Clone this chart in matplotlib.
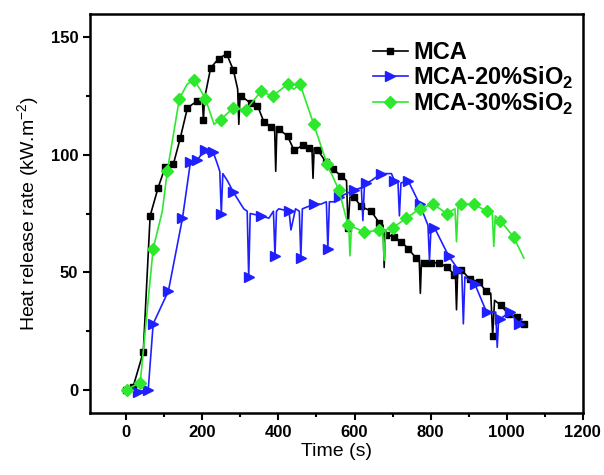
import numpy as np
import matplotlib
matplotlib.use("Agg")
import matplotlib.pyplot as plt
from matplotlib.ticker import MultipleLocator

plt.rcParams["font.family"] = ["Liberation Sans", "DejaVu Sans"]
plt.rcParams["mathtext.fontset"] = "custom"
plt.rcParams["mathtext.rm"] = "Liberation Sans"
plt.rcParams["mathtext.bf"] = "Liberation Sans:bold"

# MCA: points with markers, and extra line vertices (spikes) without markers
mcaT = [0, 18, 45, 63, 84, 103, 124, 142, 161, 187, 203, 222, 243, 264, 282, 303, 327, 345, 362, 380,
        401, 424, 441, 464, 481, 503, 525, 543, 565, 583, 599, 617, 644, 665, 683, 704, 723, 741, 762,
        784, 802, 823, 844, 862, 881, 903, 926, 945, 963, 984, 1005, 1026, 1045]
mcaY = [0, 1, 16, 74, 86, 95, 96, 107, 120, 123, 115, 137, 141, 143, 136, 125, 122, 121, 114, 112,
        111, 108, 102, 104, 103, 102, 97, 94, 91, 69, 82, 78, 76, 71, 66, 65, 63, 60, 56,
        54, 54, 54, 52, 49, 51, 47, 46, 42, 23, 36, 32, 31, 28]
mcaDipT = [200, 206, 293, 296, 299, 390, 393, 396, 488, 491, 494, 579, 588, 675, 678, 681,
           770, 773, 776, 865, 868, 871, 958, 968]
mcaDipY = [124, 124, 128, 113, 124, 112, 93, 111, 103, 90, 103, 89, 82, 70, 52, 68,
           56, 41, 55, 50, 34, 50, 41, 38]

# MCA-20%SiO2
s20T = [30, 58, 71, 111, 148, 169, 187, 208, 229, 250, 282, 322, 354, 391, 428, 459, 494, 530, 559,
        599, 631, 670, 705, 741, 771, 810, 847, 873, 916, 947, 982, 1008, 1031]
s20Y = [-1, 0, 28, 42, 73, 97, 98, 102, 101, 75, 84, 48, 74, 57, 76, 56, 79, 60, 82,
        85, 88, 92, 89, 89, 79, 69, 57, 51, 45, 33, 30, 33, 28]
s20DipT = [216, 240, 246, 254, 266, 309, 318, 326, 375, 387, 395, 401, 433, 445, 455, 463,
           512, 526, 534, 546, 618, 622, 626, 644, 697, 714, 718, 722, 793, 797, 801,
           882, 886, 890, 971, 975, 979, 1040]
s20DipY = [100, 96, 93, 92, 89, 77, 76, 75, 73, 76, 76, 77, 68, 77, 76, 77,
           79, 80, 80, 80, 86, 72, 87, 89, 92, 89, 74, 88, 70, 55, 69,
           49, 28, 48, 33, 18, 31, 30]

# MCA-30%SiO2
s30T = [2, 37, 71, 108, 140, 177, 208, 248, 282, 314, 354, 385, 424, 457, 493, 528, 559, 583, 626,
        665, 701, 736, 771, 807, 842, 881, 913, 947, 983, 1018]
s30Y = [0, 3, 60, 93, 124, 132, 124, 115, 120, 119, 127, 125, 130, 130, 113, 96, 85, 70, 67,
        68, 69, 73, 77, 79, 75, 79, 79, 76, 72, 65]
s30DipT = [95, 160, 194, 231, 400, 440, 585, 588, 592, 600, 674, 678, 682,
           864, 868, 872, 962, 966, 970, 1045]
s30DipY = [76, 130, 128, 113, 127, 128, 70, 57, 69, 69, 68, 55, 68,
           77, 63, 78, 75, 61, 74, 56]

labels = ["MCA", r"MCA-20%SiO$_{\mathbf{2}}$", r"MCA-30%SiO$_{\mathbf{2}}$"]


def merge(t, y, dt, dy):
    allT = np.array(list(t) + list(dt))
    allY = np.array(list(y) + list(dy))
    order = np.argsort(allT, kind="stable")
    isMark = np.array([True] * len(t) + [False] * len(dt))[order]
    return allT[order], allY[order], list(np.where(isMark)[0])


fig = plt.figure(figsize=(6.04, 4.75), dpi=100)
ax = fig.add_axes([0.149, 0.1305, 0.816, 0.84])

series = [
    (mcaT, mcaY, mcaDipT, mcaDipY, "black", "s", 5),
    (s20T, s20Y, s20DipT, s20DipY, "#2020ff", ">", 7),
    (s30T, s30Y, s30DipT, s30DipY, "#2ee82e", "D", 6),
]
for (t, y, dt, dy, c, m, ms), lab in zip(series, labels):
    xx, yy, mk = merge(t, y, dt, dy)
    ax.plot(xx, yy, color=c, lw=1.2, marker=m, ms=ms, markevery=mk, label=lab)

ax.set_xlim(-95, 1200)
ax.set_ylim(-10, 160)
ax.xaxis.set_major_locator(MultipleLocator(200))
ax.xaxis.set_minor_locator(MultipleLocator(100))
ax.yaxis.set_major_locator(MultipleLocator(50))
ax.yaxis.set_minor_locator(MultipleLocator(25))
ax.tick_params(which="both", direction="out", width=1.5, top=False, right=False)
ax.tick_params(which="major", length=5, labelsize=12)
ax.tick_params(which="minor", length=3)
for lbl in ax.get_xticklabels() + ax.get_yticklabels():
    lbl.set_fontweight("bold")
for sp in ax.spines.values():
    sp.set_linewidth(1.8)

ax.set_xlabel("Time (s)", fontsize=14, labelpad=2)
ax.set_ylabel(r"Heat release rate (kW.m$^{\mathregular{-2}}$)", fontsize=14, labelpad=6)

ax.legend(loc="upper right", bbox_to_anchor=(1.0, 0.955), frameon=False, handlelength=1.5,
          handletextpad=0.2, labelspacing=0.0, borderaxespad=0.0,
          prop={"weight": "bold", "size": 17})

plt.savefig("out.png", dpi=100)
